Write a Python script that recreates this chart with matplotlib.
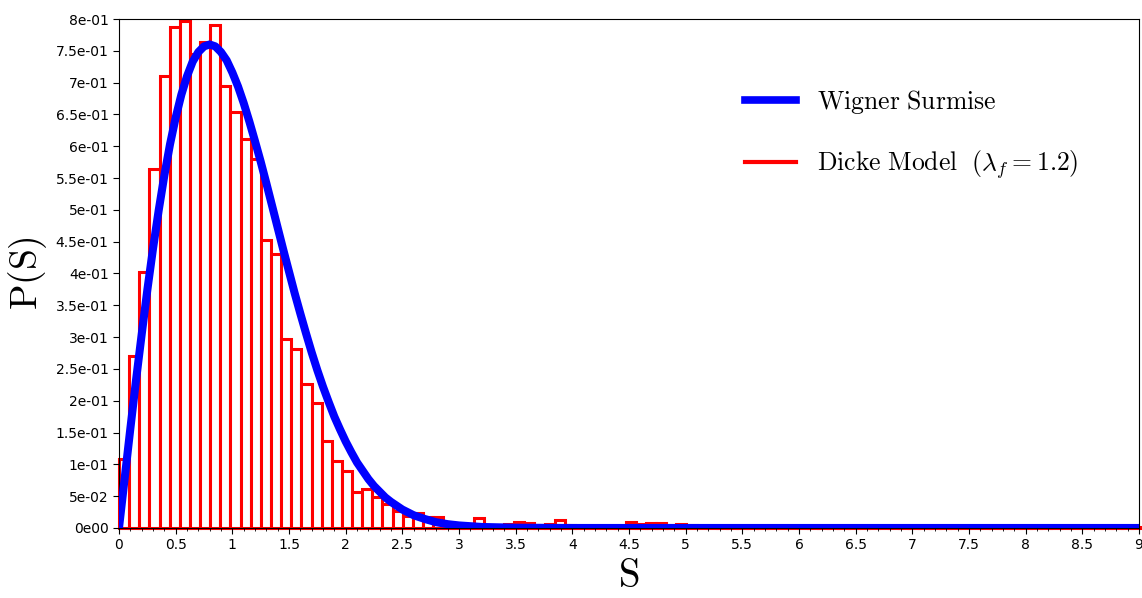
import numpy as np
import matplotlib
matplotlib.use("Agg")
import matplotlib.pyplot as plt
from matplotlib.lines import Line2D
from matplotlib.ticker import MultipleLocator, FuncFormatter

plt.rcParams['mathtext.fontset'] = 'cm'

# histogram of level spacings (Dicke model), bins of width ~0.0894 starting at 0
bin_width = 0.0894
dicke_heights = [
    0.108, 0.270, 0.402, 0.565, 0.711, 0.787, 0.797, 0.745, 0.764, 0.791,
    0.695, 0.654, 0.611, 0.580, 0.453, 0.431, 0.297, 0.281, 0.227, 0.197,
    0.137, 0.106, 0.089, 0.057, 0.061, 0.049, 0.037, 0.027, 0.019, 0.024,
    0.017, 0.017, 0.008, 0.007, 0.006, 0.015, 0.002, 0.005, 0.007, 0.009,
    0.008, 0.004, 0.006, 0.013, 0.004, 0.002, 0.001, 0.001, 0.002, 0.001,
    0.010, 0.006, 0.008, 0.008, 0.004, 0.006, 0.004, 0.002, 0.001, 0.002,
    0.001, 0.002, 0.001, 0.001, 0.002, 0.001, 0.001, 0.001, 0.002, 0.001,
    0.001, 0.001, 0.001, 0.001, 0.001, 0.001, 0.001, 0.001, 0.001, 0.001,
    0.001, 0.001, 0.001, 0.001, 0.001, 0.001, 0.001, 0.001, 0.001, 0.001,
    0.001, 0.001, 0.001, 0.001, 0.001, 0.001, 0.001, 0.001, 0.001, 0.001,
    0.001,
]

# Wigner surmise curve
wigner_s = [0.0, 0.05, 0.1, 0.15, 0.2, 0.25, 0.3, 0.35, 0.4, 0.45, 0.5, 0.55,
            0.6, 0.65, 0.7, 0.75, 0.8, 0.85, 0.9, 0.95, 1.0, 1.05, 1.1, 1.15,
            1.2, 1.25, 1.3, 1.35, 1.4, 1.45, 1.5, 1.55, 1.6, 1.65, 1.7, 1.75,
            1.8, 1.85, 1.9, 1.95, 2.0, 2.05, 2.1, 2.15, 2.2, 2.25, 2.3, 2.35,
            2.4, 2.45, 2.5, 2.6, 2.7, 2.8, 2.9, 3.0, 3.2, 3.5, 4.0, 5.0, 6.0,
            7.0, 8.0, 9.0]
wigner_p = [0.0, 0.078, 0.156, 0.232, 0.304, 0.374, 0.439, 0.499, 0.554,
            0.603, 0.645, 0.681, 0.710, 0.733, 0.748, 0.757, 0.760, 0.757,
            0.748, 0.735, 0.716, 0.694, 0.668, 0.639, 0.608, 0.576, 0.542,
            0.507, 0.472, 0.437, 0.403, 0.369, 0.337, 0.306, 0.276, 0.248,
            0.222, 0.198, 0.175, 0.155, 0.136, 0.119, 0.103, 0.090, 0.077,
            0.066, 0.057, 0.048, 0.041, 0.035, 0.029, 0.020, 0.014, 0.009,
            0.006, 0.004, 0.0016, 0.0004, 0.0, 0.0, 0.0, 0.0, 0.0, 0.0]

labels = [r'$\mathrm{Wigner\ Surmise}$',
          r'$\mathrm{Dicke\ Model}\ \ (\lambda_f = 1.2)$']


def sci_fmt(v, pos):
    if abs(v) < 1e-12:
        return "0e00"
    e = int(np.floor(np.log10(abs(v)) + 1e-9))
    m = v / 10 ** e
    es = f"{e:03d}" if e < 0 else f"{e:02d}"
    return f"{m:g}e{es}"


fig = plt.figure(figsize=(11.42, 5.98), dpi=100)
ax = fig.add_axes([0.1042, 0.1171, 0.8932, 0.8511])

left_edges = np.arange(len(dicke_heights)) * bin_width
ax.bar(left_edges, dicke_heights, width=bin_width, align='edge',
       facecolor='white', edgecolor='#ff0000', linewidth=2.2, zorder=1,
       clip_on=False)
ax.plot(wigner_s, wigner_p, color='#0000ff', linewidth=5.8, zorder=3,
        solid_joinstyle='round')

ax.set_xlim(0, 9)
ax.set_ylim(0, 0.8)
ax.xaxis.set_major_locator(MultipleLocator(0.5))
ax.xaxis.set_minor_locator(MultipleLocator(0.1))
ax.xaxis.set_major_formatter(FuncFormatter(lambda v, p: f"{v:g}"))
ax.yaxis.set_major_locator(MultipleLocator(0.05))
ax.yaxis.set_major_formatter(FuncFormatter(sci_fmt))
ax.tick_params(axis='both', which='major', labelsize=10, length=4)
ax.tick_params(axis='x', which='minor', length=2)

ax.set_xlabel(r'$\mathrm{S}$', fontsize=28, labelpad=3)
ax.set_ylabel(r'$\mathrm{P(S)}$', fontsize=27, labelpad=5)

handles = [Line2D([], [], color='#0000ff', linewidth=5.5),
           Line2D([], [], color='#ff0000', linewidth=3)]
ax.legend(handles, labels, loc='upper left', bbox_to_anchor=(0.591, 0.91),
          frameon=False, fontsize=18.5, handlelength=2.0, handletextpad=0.8,
          labelspacing=1.25)

fig.savefig("out.png", dpi=100)
